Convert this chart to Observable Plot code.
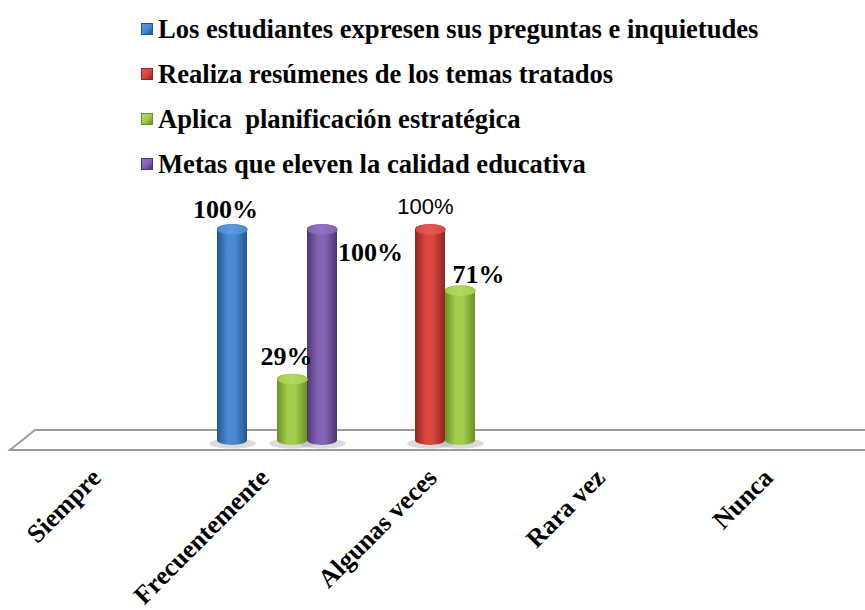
<!DOCTYPE html>
<html>
<head>
<meta charset="utf-8">
<script src="https://cdn.jsdelivr.net/npm/d3@7"></script>
<script src="https://cdn.jsdelivr.net/npm/@observablehq/plot@0.6"></script>
<style>
  html, body { margin: 0; padding: 0; background: #fff; }
  #wrap { position: relative; width: 865px; height: 610px; overflow: hidden; }
  #legend { position: absolute; left: 141px; top: 6px; font-family: "Liberation Serif", "Times New Roman", serif; font-weight: bold; font-size: 26.6px; color: #000; }
  .item { height: 45px; line-height: 38px; display: flex; align-items: center; white-space: pre; }
  .swatch { width: 10px; height: 10px; margin-right: 5px; border: 1px solid; box-sizing: content-box; }
  #chart { position: absolute; left: 0; top: 0; }
</style>
</head>
<body>
<div id="wrap">
  <div id="chart"></div>
  <div id="legend"></div>
</div>
<script>
// Response categories along the floor
const categories = ["Siempre", "Frecuentemente", "Algunas veces", "Rara vez", "Nunca"];

// Series names (legend order)
const seriesNames = [
  "Los estudiantes expresen sus preguntas e inquietudes",
  "Realiza resúmenes de los temas tratados",
  "Aplica  planificación estratégica",
  "Metas que eleven la calidad educativa"
];

// Percentages per category, one array per series
const estudiantes   = [0, 100, 0, 0, 0];
const resumenes     = [0, 0, 100, 0, 0];
const planificacion = [0, 29, 71, 0, 0];
const metas         = [0, 100, 0, 0, 0];

const seriesValues = [estudiantes, resumenes, planificacion, metas];

// Cylinder shading: [edge, highlight, cap]
const palette = [
  ["#24558f", "#4a8ad2", "#5b9be0"],
  ["#8e2522", "#d9473f", "#e55a52"],
  ["#6a9127", "#a3cd4b", "#b2d95f"],
  ["#4e3574", "#8263b4", "#9173c2"]
];

// Long table built from the arrays (zero values draw no cylinder)
const rows = [];
seriesNames.forEach((s, i) => {
  categories.forEach((c, j) => {
    const v = seriesValues[i][j];
    if (v > 0) rows.push({series: s, idx: i, category: c, value: v});
  });
});

// Label placement and typography per bar (series index | category)
const labelStyle = {
  "0|Frecuentemente": {dx: -7, dy: -12},
  "2|Frecuentemente": {dx: -6, dy: -14},
  "3|Frecuentemente": {dx: 48, dy: 31},
  "1|Algunas veces":  {dx: -5, dy: -16, sans: true},
  "2|Algunas veces":  {dx: 18, dy: -8}
};

// Layout
const W = 865, H = 610;
const mL = 24, mR = 0, mT = 229, mB = 170;
const padOuter = 0.75;
const facetW = (W - mL - mR) / categories.length;
const step = facetW / (seriesNames.length + 2 * padOuter);
const capR = step / 2;

// Elliptical cap symbol for the cylinder tops
const ellipse = {
  draw(ctx, size) {
    const rx = Math.sqrt(size / Math.PI), ry = 5, k = 0.5523;
    ctx.moveTo(rx, 0);
    ctx.bezierCurveTo(rx, ry * k, rx * k, ry, 0, ry);
    ctx.bezierCurveTo(-rx * k, ry, -rx, ry * k, -rx, 0);
    ctx.bezierCurveTo(-rx, -ry * k, -rx * k, -ry, 0, -ry);
    ctx.bezierCurveTo(rx * k, -ry, rx, -ry * k, rx, 0);
    ctx.closePath();
  }
};

const labelMarks = rows.map(r => {
  const st = labelStyle[`${r.idx}|${r.category}`] || {dx: 0, dy: -10};
  return Plot.text([r], {
    fx: "category", x: "series", y: "value",
    text: d => `${d.value}%`,
    dx: st.dx, dy: st.dy,
    lineAnchor: "bottom",
    fill: "#000",
    fontSize: st.sans ? 22 : 26,
    fontWeight: st.sans ? "normal" : "bold",
    fontFamily: st.sans ? "'Liberation Sans', Arial, sans-serif" : "'Liberation Serif', 'Times New Roman', serif"
  });
});

const chart = Plot.plot({
  width: W, height: H,
  marginLeft: mL, marginRight: mR, marginTop: mT, marginBottom: mB,
  style: {background: "transparent", overflow: "visible"},
  fx: {domain: categories, padding: 0},
  x: {domain: seriesNames, paddingInner: 0, paddingOuter: padOuter, axis: null},
  y: {domain: [0, 100], axis: null},
  color: {type: "identity"},
  marks: [
    // soft base shadows on the floor
    Plot.dot(rows, {fx: "category", x: "series", y: () => 0, r: capR + 8, symbol: ellipse,
      fill: "#9a9a9a", fillOpacity: 0.35, dy: 3, ariaLabel: "shadow"}),
    // cylinder bodies
    Plot.barY(rows, {fx: "category", x: "series", y: "value",
      fill: d => `url(#cyl${d.idx})`, rx: 100, ry: 5, insetTop: -5, insetBottom: -5}),
    // cylinder caps
    Plot.dot(rows, {fx: "category", x: "series", y: "value", r: capR, symbol: ellipse,
      fill: d => `url(#cap${d.idx})`}),
    ...labelMarks,
    Plot.axisFx({anchor: "bottom", label: null, tickSize: 0, tickPadding: 33, tickRotate: -45,
      dx: -13, fontSize: 26, fontWeight: "bold",
      fontFamily: "'Liberation Serif', 'Times New Roman', serif", fill: "#000"})
  ]
});

document.getElementById("chart").appendChild(chart);

// gradients + floor slab
const svg = d3.select(chart);
const defs = svg.insert("defs", ":first-child");
palette.forEach(([edge, hi, cap], i) => {
  const g = defs.append("linearGradient").attr("id", `cyl${i}`).attr("x1", 0).attr("x2", 1).attr("y1", 0).attr("y2", 0);
  g.append("stop").attr("offset", "0%").attr("stop-color", edge);
  g.append("stop").attr("offset", "35%").attr("stop-color", hi);
  g.append("stop").attr("offset", "60%").attr("stop-color", hi);
  g.append("stop").attr("offset", "100%").attr("stop-color", edge);
  const c = defs.append("linearGradient").attr("id", `cap${i}`).attr("x1", 0).attr("x2", 1).attr("y1", 0).attr("y2", 0);
  c.append("stop").attr("offset", "0%").attr("stop-color", hi);
  c.append("stop").attr("offset", "45%").attr("stop-color", cap);
  c.append("stop").attr("offset", "100%").attr("stop-color", hi);
});
const blur = defs.append("filter").attr("id", "soft").attr("x", "-50%").attr("y", "-50%").attr("width", "200%").attr("height", "200%");
blur.append("feGaussianBlur").attr("stdDeviation", 4);
svg.select('g[aria-label="shadow"]').attr("filter", "url(#soft)");

const base = chart.scale("y").apply(0);
const depth = 10, skew = 25;
const x0 = mL - 14, x1 = W + 12;
svg.insert("polygon", "defs + *")
  .attr("points", [[x0 + skew, base - depth], [x1 + skew, base - depth], [x1, base + depth], [x0, base + depth]].map(p => p.join(",")).join(" "))
  .attr("fill", "#fdfdfd").attr("stroke", "#9c9c9c").attr("stroke-width", 2).attr("stroke-linejoin", "miter");

// legend
const legend = d3.select("#legend");
seriesNames.forEach((s, i) => {
  const it = legend.append("div").attr("class", "item");
  it.append("span").attr("class", "swatch")
    .style("background", `linear-gradient(135deg, ${palette[i][2]}, ${palette[i][1]} 50%, ${palette[i][0]})`)
    .style("border-color", palette[i][0]);
  it.append("span").text(s);
});
</script>
</body>
</html>
